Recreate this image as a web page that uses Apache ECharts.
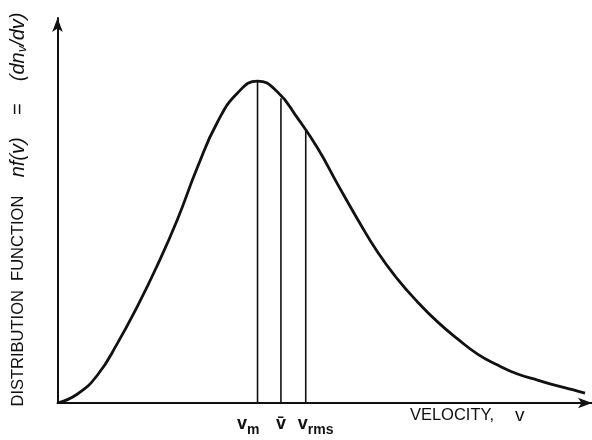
<!DOCTYPE html>
<html>
<head>
<meta charset="utf-8">
<script src="https://cdn.jsdelivr.net/npm/echarts@6/dist/echarts.min.js"></script>
<style>
  html, body { margin: 0; padding: 0; background: #ffffff; }
  #chart { width: 592px; height: 440px; }
</style>
</head>
<body>
<div id="chart"></div>
<script>
// Speed in units of the most probable speed v_m, and the distribution
// function scaled so that its maximum (at v_m) equals 1.
const velocity = [0, 0.1, 0.2, 0.3, 0.4, 0.5, 0.6, 0.7, 0.8, 0.9,
  1.0, 1.1, 1.2, 1.3, 1.4, 1.5, 1.6, 1.7, 1.8, 1.9,
  2.0, 2.1, 2.2, 2.3, 2.4, 2.5, 2.6, 2.637];
const distribution = [0, 0.028, 0.087, 0.186, 0.301, 0.429, 0.571, 0.733, 0.873, 0.963,
  1.000, 0.966, 0.885, 0.792, 0.680, 0.571, 0.469, 0.385, 0.314, 0.252,
  0.199, 0.152, 0.118, 0.090, 0.071, 0.053, 0.037, 0.031];

// Characteristic speeds: most probable, mean and root-mean-square
const markerVelocity = [1.000, 1.117, 1.241];
const markerHeight = [1.000, 0.947, 0.845];
const markerLabels = ['{v|v}{sub|m}', '{v|v\u0304}', '{v|v}{sub|rms}'];
const markerAlign = ['right', 'center', 'left'];
const markerShift = [2, 0, -8];

const xMax = 2.672;
const yMax = 1.196;

const curve = velocity.map((v, i) => [v, distribution[i]]);

const ink = '#111111';

const labelRich = {
  v: { fontFamily: 'Liberation Sans', fontSize: 18, fontWeight: 'bold', color: ink, verticalAlign: 'top', lineHeight: 22 },
  sub: { fontFamily: 'Liberation Sans', fontSize: 14, fontWeight: 'bold', color: ink, verticalAlign: 'bottom', lineHeight: 22, padding: [8, 0, 0, 0] }
};

const markerSeries = markerVelocity.map((v, i) => ({
  type: 'line',
  data: [[v, 0], [v, markerHeight[i]]],
  symbol: 'none',
  silent: true,
  lineStyle: { color: ink, width: 1.6 },
  markPoint: {
    symbol: 'circle',
    symbolSize: 0,
    data: [{ coord: [v, 0] }],
    label: {
      show: true,
      position: 'bottom',
      distance: 12,
      align: markerAlign[i],
      offset: [markerShift[i], 0],
      formatter: markerLabels[i],
      rich: labelRich
    }
  },
  z: 2
}));

const chart = echarts.init(document.getElementById('chart'), null, { renderer: 'canvas' });

chart.setOption({
  animation: false,
  backgroundColor: '#ffffff',
  grid: { left: 55, right: 0, top: 18, bottom: 37, containLabel: false },
  xAxis: {
    type: 'value',
    min: 0,
    max: xMax,
    name: '{t|VELOCITY,}{v|    v}',
    nameLocation: 'middle',
    nameGap: 3,
    nameTextStyle: {
      color: ink,
      verticalAlign: 'top',
      padding: [0, 0, 0, 285],
      rich: {
        t: { fontFamily: 'Liberation Sans', fontSize: 16.5, color: ink },
        v: { fontFamily: 'Liberation Sans', fontSize: 19, color: ink }
      }
    },
    axisLine: {
      show: true,
      onZero: false,
      symbol: ['none', 'arrow'],
      symbolSize: [8, 14],
      lineStyle: { color: ink, width: 2 }
    },
    axisTick: { show: false },
    axisLabel: { show: false },
    splitLine: { show: false }
  },
  yAxis: {
    type: 'value',
    min: 0,
    max: yMax,
    name: '{t|DISTRIBUTION  FUNCTION    }{i|nf(v)    =    (dn}{s|v}{i|/dv)}',
    nameLocation: 'middle',
    nameRotate: 90,
    nameGap: 29,
    nameTextStyle: {
      color: ink,
      padding: [0, 0, 0, 2],
      rich: {
        t: { fontFamily: 'Liberation Sans', fontSize: 16.5, color: ink },
        i: { fontFamily: 'Liberation Sans', fontSize: 20, fontStyle: 'italic', color: ink },
        s: { fontFamily: 'Liberation Sans', fontSize: 13, fontStyle: 'italic', color: ink, padding: [8, 0, 0, 0] }
      }
    },
    axisLine: {
      show: true,
      onZero: false,
      symbol: ['none', 'arrow'],
      symbolSize: [8, 14],
      lineStyle: { color: ink, width: 2 }
    },
    axisTick: { show: false },
    axisLabel: { show: false },
    splitLine: { show: false }
  },
  series: [
    {
      type: 'line',
      data: curve,
      smooth: 0.5,
      symbol: 'none',
      silent: true,
      lineStyle: { color: ink, width: 2.8 },
      z: 3
    }
  ].concat(markerSeries)
});
</script>
</body>
</html>
